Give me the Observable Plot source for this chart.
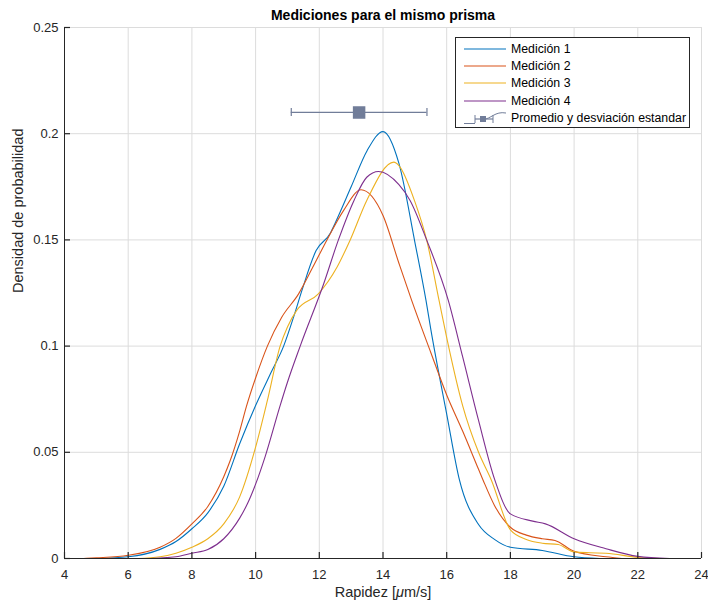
<!DOCTYPE html>
<html><head><meta charset="utf-8">
<script src="https://cdn.jsdelivr.net/npm/d3@7"></script>
<script src="https://cdn.jsdelivr.net/npm/@observablehq/plot@0.6"></script>
<style>
body{margin:0;background:#fff;font-family:"Liberation Sans",Arial,sans-serif;}
#wrap{position:relative;width:708px;height:604px;overflow:hidden;}
#legend{position:absolute;left:455px;top:37px;width:235px;height:91px;border:1px solid #262626;background:#fff;font-size:12.3px;color:#000;box-sizing:border-box;padding-top:2px;white-space:nowrap;}
#legend .row{display:flex;align-items:center;height:17.3px;}
#legend svg{width:44px;height:14px;margin-left:7px;margin-right:4px;flex:none;}
</style></head>
<body><div id="wrap"><div id="chart"></div><div id="legend"></div></div>
<script>
const seriesNames = ["Medición 1","Medición 2","Medición 3","Medición 4"];
const seriesColors = ["#0072BD","#D95319","#EDB120","#7E2F8E"];
const x1 = [5,6,7,7.5,8,8.5,9,9.5,10,10.5,10.88,11.2,11.45,11.9,12.34,12.5,13,13.5,14,14.5,15,15.35,15.5,16,16.4,17,17.5,18,19,20,20.8];
const y1 = [0,0.0008,0.0043,0.008,0.014,0.0215,0.034,0.054,0.072,0.088,0.1,0.114,0.126,0.145,0.153,0.158,0.175,0.192,0.201,0.186,0.149,0.1215,0.108,0.068,0.037,0.016,0.009,0.0053,0.0038,0.0008,0];
const x2 = [4.6,5,6,7,7.5,8,8.5,9,9.2,9.5,9.71,10,10.37,10.82,11.35,11.79,12.24,12.76,13.31,14,14.5,14.9,15.5,16,16.5,17,17.14,17.5,18,18.5,19,19.4,20,21,21.5];
const y2 = [0,0.0003,0.0015,0.0053,0.0095,0.0163,0.0245,0.0385,0.046,0.06,0.0715,0.085,0.1,0.1136,0.1246,0.137,0.15,0.1638,0.1736,0.1615,0.139,0.1215,0.097,0.077,0.06,0.042,0.037,0.025,0.0147,0.011,0.0093,0.0085,0.0034,0.0008,0];
const x3 = [6.3,7,7.5,8,8.5,9,9.5,10,10.37,10.77,11,11.29,11.97,12.55,12.97,13.49,14.34,14.5,15,15.37,15.76,16,16.5,17,17.4,18,18.5,19,19.5,20,20.5,21,22,22.7];
const y3 = [0,0.0008,0.0025,0.0053,0.0093,0.0163,0.029,0.0524,0.0744,0.1,0.109,0.1168,0.1246,0.137,0.15,0.1686,0.1866,0.185,0.168,0.15,0.1215,0.104,0.072,0.05,0.037,0.0135,0.009,0.0072,0.0066,0.0031,0.0027,0.0025,0.0005,0];
const x4 = [6.7,7,7.5,8,8.5,9,9.5,9.75,10,10.3,10.77,11,11.4,12.13,12.6,13.09,13.49,13.86,14.5,14.85,15.37,16.05,16.5,17,17.51,18,18.7,19.1,20,21,22,23];
const y4 = [0,0.0002,0.0008,0.0025,0.0042,0.0093,0.019,0.026,0.035,0.048,0.072,0.083,0.1,0.129,0.15,0.1686,0.1795,0.1822,0.176,0.1686,0.15,0.1215,0.095,0.065,0.037,0.021,0.0176,0.0163,0.0093,0.0046,0.001,0];
const meanValue = 13.25, stdValue = 2.13, markerLevel = 0.21;
const xTicks = [4,6,8,10,12,14,16,18,20,22,24];
const yTicks = [0,0.05,0.1,0.15,0.2,0.25];
const yTickLabels = ["0","0.05","0.1","0.15","0.2","0.25"];
const errColor = "#717d99";

const allX = [x1,x2,x3,x4], allY = [y1,y2,y3,y4];
const rows = [];
allX.forEach((xs,i)=>xs.forEach((x,j)=>rows.push({series:seriesNames[i], x, y:allY[i][j]})));
const stats = [{m:meanValue, s:stdValue, y:markerLevel}];
const font = '"Liberation Sans",Arial,sans-serif';

const plot = Plot.plot({
  width:708, height:604,
  marginLeft:64, marginRight:7, marginTop:27, marginBottom:46,
  style:{fontFamily:font, fontSize:"13px", color:"#262626", background:"#fff", overflow:"visible"},
  x:{domain:[4,24]},
  y:{domain:[0,0.25]},
  color:{domain:seriesNames, range:seriesColors},
  marks:[
    Plot.gridX(xTicks,{stroke:"#dcdcdc", strokeOpacity:1}),
    Plot.gridY(yTicks,{stroke:"#dcdcdc", strokeOpacity:1}),
    Plot.line(rows,{x:"x", y:"y", z:"series", stroke:"series", strokeWidth:1.1, curve:"monotone-x"}),
    Plot.ruleY(stats,{x1:d=>d.m-d.s, x2:d=>d.m+d.s, y:"y", stroke:errColor, strokeWidth:1.2}),
    Plot.ruleX(stats,{x:d=>d.m-d.s, y1:"y", y2:"y", insetTop:-4, insetBottom:-4, stroke:errColor, strokeWidth:1.2}),
    Plot.ruleX(stats,{x:d=>d.m+d.s, y1:"y", y2:"y", insetTop:-4, insetBottom:-4, stroke:errColor, strokeWidth:1.2}),
    Plot.dot(stats,{x:"m", y:"y", symbol:"square", r:6.2, fill:errColor, stroke:errColor}),
    Plot.axisX({ticks:xTicks, tickSize:0, tickPadding:11, fontSize:13, label:null, fill:"#262626"}),
    Plot.axisX({ticks:xTicks, tickSize:-6, tickFormat:()=>"", label:null, stroke:"#262626", strokeWidth:1.2}),
    Plot.axisY({ticks:yTicks, tickSize:0, tickPadding:6, tickFormat:(d,i)=>yTickLabels[i], fontSize:13, label:null, fill:"#262626"}),
    Plot.axisY({ticks:yTicks, tickSize:-6, tickFormat:()=>"", label:null, stroke:"#262626", strokeWidth:1.2}),
    Plot.ruleX([4],{stroke:"#262626"}),
    Plot.ruleY([0],{stroke:"#262626"}),
    Plot.text(["Mediciones para el mismo prisma"],{frameAnchor:"top", dy:-17, fontWeight:"bold", fontSize:14, fill:"#000"}),
    Plot.text(["Rapidez [μm/s]"],{frameAnchor:"bottom", dy:38, fontSize:14.5, fill:"#262626"}),
    Plot.text(["Densidad de probabilidad"],{frameAnchor:"left", dx:-46, rotate:-90, fontSize:14.5, fill:"#262626"})
  ]
});
document.getElementById("chart").appendChild(plot);
// italic mu as in the TeX label
d3.select(plot).selectAll("text").filter(function(){return this.textContent==="Rapidez [μm/s]";}).each(function(){
  const t=d3.select(this); t.text(null);
  t.append("tspan").text("Rapidez [");
  t.append("tspan").attr("font-style","italic").text("μ");
  t.append("tspan").text("m/s]");
});

const leg = document.getElementById("legend");
seriesNames.forEach((n,i)=>{
  const r=document.createElement("div"); r.className="row";
  r.innerHTML=`<svg viewBox="0 0 44 14"><line x1="1" x2="43" y1="7" y2="7" stroke="${seriesColors[i]}" stroke-width="1.2"/></svg><span>${n}</span>`;
  leg.appendChild(r);
});
const r=document.createElement("div"); r.className="row";
r.innerHTML=`<svg viewBox="0 0 44 14"><path d="M1,12.5 L12,12.5 M43,2 C32,0 28,8 20,8.5" fill="none" stroke="${errColor}" stroke-width="1"/><line x1="12" x2="30" y1="8" y2="8" stroke="${errColor}" stroke-width="1.2"/><line x1="12" x2="12" y1="4" y2="12" stroke="${errColor}"/><line x1="30" x2="30" y1="4" y2="12" stroke="${errColor}"/><rect x="17" y="5" width="6" height="6" fill="${errColor}"/></svg><span>Promedio y desviación estandar</span>`;
leg.appendChild(r);
</script></body></html>
